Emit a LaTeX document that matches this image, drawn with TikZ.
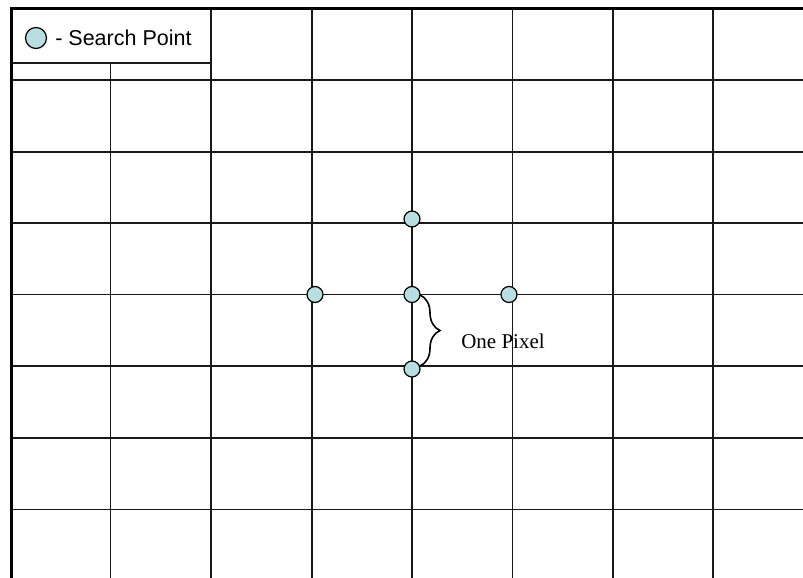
\documentclass[tikz,border=0pt]{standalone}
\usepackage{fontspec}
\setmainfont{Liberation Serif}
\setsansfont{Liberation Sans}
\usetikzlibrary{positioning,decorations.pathreplacing}
\definecolor{searchblue}{RGB}{185,222,225}

\begin{document}
\begin{tikzpicture}[
  x=1pt,
  y=-1pt,
  gridline/.style={line width=1.6pt,draw=black!90},
  searchpt/.style={circle,draw,line width=1.2pt,fill=searchblue,minimum size=16pt,inner sep=0pt}
]
\useasboundingbox (0,0) rectangle (803,578);
\foreach \x in {110.5,211,312,412,512.5,613,713}
  \draw[gridline] (\x,9) -- (\x,578);
\foreach \y in {80,152,223,294.5,366,438,509.5}
  \draw[gridline] (11,\y) -- (803,\y);
% legend
\draw[gridline,fill=white] (11,9) rectangle (211,63);
\node[searchpt,minimum size=21pt] (key) at (36,38) {};
\node[right=6pt of key,inner sep=2pt,font=\sffamily\fontsize{21.5}{25}\selectfont] (keytext) {- Search Point};
\draw[line width=3pt] (11,578) -- (11,9) -- (803,9);
% search points
\node[searchpt] (pc) at (412,294.5) {};
\node[searchpt] (pn) at (412,219) {};
\node[searchpt] (pw) at (315,294.5) {};
\node[searchpt] (pe) at (509,294.5) {};
\node[searchpt] (ps) at (412,369) {};
\coordinate (bracetop) at (420,295);
\coordinate (bracebot) at (420,366);
\draw[line width=1.6pt,decorate,decoration={brace,amplitude=20pt}] (bracetop) -- (bracebot);
\node[font=\fontsize{21}{25}\selectfont] (pixeltext) at (503,341) {One Pixel};
\end{tikzpicture}
\end{document}
